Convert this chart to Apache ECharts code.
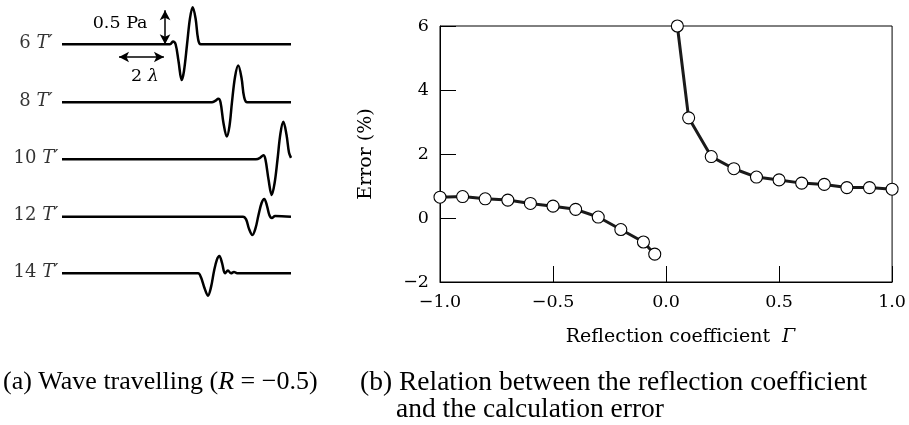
<!DOCTYPE html>
<html><head><meta charset="utf-8">
<script src="https://cdn.jsdelivr.net/npm/echarts@6/dist/echarts.min.js"></script>
<style>html,body{margin:0;padding:0;background:#fff}#c{width:909px;height:425px}</style>
</head><body><div id="c"></div>
<script>
// ---------- Panel (a): wave travelling, x in wavelengths (λ), y in Pa relative to each baseline ----------
const traceLabels = ['6', '8', '10', '12', '14'];
const traceOffsets = [0, -0.853, -1.691, -2.535, -3.368];
const trace6 = [[0,0],[4.81,0],[4.94,0.04],[5.06,0],[5.19,-0.25],[5.33,-0.525],[5.43,-0.40],[5.57,0],[5.70,0.38],[5.82,0.545],[5.95,0.38],[6.06,0.08],[6.18,0],[10.2,0]];
const trace8 = [[0,0],[6.68,0],[6.82,0.02],[6.96,0.05],[7.06,0],[7.19,-0.30],[7.34,-0.505],[7.46,-0.35],[7.57,0],[7.71,0.38],[7.85,0.54],[8.00,0.35],[8.11,0.08],[8.25,0],[10.2,0]];
const trace10 = [[0,0],[8.64,0],[8.82,0.02],[8.97,0.06],[9.06,0],[9.20,-0.30],[9.34,-0.525],[9.47,-0.35],[9.60,0],[9.73,0.38],[9.86,0.55],[10.0,0.36],[10.11,0.10],[10.2,0.02]];
const trace12 = [[0,0],[8.06,0],[8.20,-0.04],[8.33,-0.18],[8.48,-0.27],[8.62,-0.17],[8.75,0.02],[8.89,0.20],[9.01,0.26],[9.13,0.16],[9.24,0.02],[9.35,-0.02],[9.49,0.01],[10.2,0]];
const trace14 = [[0,0],[6.06,0],[6.19,-0.06],[6.35,-0.22],[6.50,-0.33],[6.64,-0.20],[6.77,0.03],[6.90,0.20],[7.01,0.255],[7.13,0.15],[7.26,0],[7.39,0.04],[7.53,0],[7.66,0.02],[7.80,0],[10.2,0]];
const traces = [trace6, trace8, trace10, trace12, trace14];
const ampArrow = [4.59, 0, 0.5];          // x, from Pa, to Pa
const lambdaArrow = [2.54, 4.54, -0.187]; // from x, to x, y

// ---------- Panel (b): reflection coefficient vs error ----------
const gammaNeg = [-1.0,-0.9,-0.8,-0.7,-0.6,-0.5,-0.4,-0.3,-0.2,-0.1,-0.05];
const errorNeg = [0.65,0.67,0.60,0.56,0.455,0.37,0.27,0.03,-0.36,-0.75,-1.13];
const gammaPos = [0.05,0.1,0.2,0.3,0.4,0.5,0.6,0.7,0.8,0.9,1.0];
const errorPos = [6.0,3.13,1.92,1.54,1.28,1.19,1.09,1.05,0.95,0.95,0.90];

const serif = 'DejaVu Serif';
const minus = s => String(s).replace('-', '\u2212');

const chart = echarts.init(document.getElementById('c'), null, {renderer: 'canvas'});

const series = [];
traces.forEach((tr, i) => {
  const s = {
    type: 'line', xAxisIndex: 0, yAxisIndex: 0,
    data: tr.map(p => [p[0], p[1] + traceOffsets[i]]),
    showSymbol: false, smooth: 0.35, animation: false,
    lineStyle: {color: '#000', width: 2.5}, z: 3
  };
  if (i === 0) {
    s.markLine = {
      silent: true, symbol: ['arrow', 'arrow'], symbolSize: [8, 10], animation: false,
      lineStyle: {color: '#000', width: 1.5, type: 'solid'}, label: {show: false},
      data: [
        [{coord: [ampArrow[0], ampArrow[1]]}, {coord: [ampArrow[0], ampArrow[2]]}],
        [{coord: [lambdaArrow[0], lambdaArrow[2]]}, {coord: [lambdaArrow[1], lambdaArrow[2]]}]
      ]
    };
    s.markPoint = {
      silent: true, symbol: 'circle', symbolSize: 1, itemStyle: {color: 'rgba(0,0,0,0)'}, animation: false,
      data: [
        {coord: [(lambdaArrow[0] + lambdaArrow[1]) / 2 - 0.95, ampArrow[2] * 0.62], value: 'pa'},
        {coord: [(lambdaArrow[0] + lambdaArrow[1]) / 2 + 0.15, lambdaArrow[2] - 0.29], value: 'lam'}
      ],
      label: {
        show: true, position: 'inside', color: '#000',
        fontFamily: serif, fontSize: 17.5,
        formatter: p => p.value === 'pa' ? '0.5 Pa' : '2 {i|λ}',
        rich: {i: {fontFamily: serif, fontStyle: 'italic', fontSize: 17.5, color: '#000'}}
      }
    };
  }
  series.push(s);
});
// trace labels
series.push({
  type: 'scatter', xAxisIndex: 0, yAxisIndex: 0, clip: false, animation: false,
  symbolSize: 1, itemStyle: {color: 'rgba(0,0,0,0)'},
  data: traceOffsets.map((o, i) => [-1.16, o + 0.02, traceLabels[i]]),
  label: {
    show: true, position: 'inside', color: '#000', fontFamily: serif, fontSize: 18,
    formatter: p => p.value[2] + ' {i|T\u2032}',
    rich: {i: {fontFamily: serif, fontStyle: 'italic', fontSize: 18, color: '#000'}}
  }
});
// panel (b)
const markerStyle = {color: '#fff', borderColor: '#000', borderWidth: 1.1};
series.push({
  type: 'line', xAxisIndex: 1, yAxisIndex: 1, animation: false,
  data: gammaNeg.map((g, i) => [g, errorNeg[i]]),
  symbol: 'circle', symbolSize: 12, itemStyle: markerStyle,
  lineStyle: {color: '#1a1a1a', width: 3}, clip: false
});
series.push({
  type: 'line', xAxisIndex: 1, yAxisIndex: 1, animation: false,
  data: gammaPos.map((g, i) => [g, errorPos[i]]),
  symbol: 'circle', symbolSize: 12, itemStyle: markerStyle,
  lineStyle: {color: '#1a1a1a', width: 3}, clip: false
});

const option = {
  backgroundColor: '#fff',
  animation: false,
  grid: [
    {left: 62, width: 229, top: 0, height: 300},
    {left: 440, right: 15, top: 26, bottom: 143, show: true, borderColor: '#000', borderWidth: 1}
  ],
  xAxis: [
    {gridIndex: 0, type: 'value', min: 0, max: 10.2, show: false},
    {gridIndex: 1, type: 'value', min: -1, max: 1, interval: 0.5,
     axisLine: {onZero: false, lineStyle: {color: '#000', width: 1}},
     axisTick: {inside: true, length: 16, lineStyle: {color: '#000', width: 1}},
     splitLine: {show: false},
     axisLabel: {color: '#000', fontFamily: serif, fontSize: 17.5, margin: 11,
       formatter: v => minus(v.toFixed(1))},
     name: 'Reflection coefficient  {i|Γ}', nameLocation: 'middle', nameGap: 46,
     nameTextStyle: {color: '#000', fontFamily: serif, fontSize: 19, padding: [0, 0, 0, 29],
       rich: {i: {fontFamily: serif, fontStyle: 'italic', fontSize: 19, color: '#000'}}}}
  ],
  yAxis: [
    {gridIndex: 0, type: 'value', min: -3.761, max: 0.651, show: false},
    {gridIndex: 1, type: 'value', min: -2, max: 6, interval: 2,
     axisLine: {onZero: false, lineStyle: {color: '#000', width: 1}},
     axisTick: {inside: true, length: 16, lineStyle: {color: '#000', width: 1}},
     splitLine: {show: false},
     axisLabel: {color: '#000', fontFamily: serif, fontSize: 17.5, margin: 11,
       formatter: v => minus(v)},
     name: 'Error (%)', nameLocation: 'middle', nameGap: 64, nameRotate: 90,
     nameTextStyle: {color: '#000', fontFamily: serif, fontSize: 19}}
  ],
  series: series,
  graphic: [
    {type: 'text', left: 3, top: 369, silent: true,
     style: {text: '(a) Wave travelling ({i|R} = \u22120.5)', fill: '#000',
       font: '26px "Liberation Serif"',
       rich: {i: {fontStyle: 'italic', fontFamily: 'Liberation Serif', fontSize: 26, fill: '#000'}}}},
    {type: 'text', left: 360, top: 369, silent: true,
     style: {text: '(b) Relation between the reflection coefficient', fill: '#000',
       font: '27.5px "Liberation Serif"'}},
    {type: 'text', left: 396, top: 396, silent: true,
     style: {text: 'and the calculation error', fill: '#000',
       font: '27.5px "Liberation Serif"'}}
  ]
};
chart.setOption(option);
</script>
</body></html>
